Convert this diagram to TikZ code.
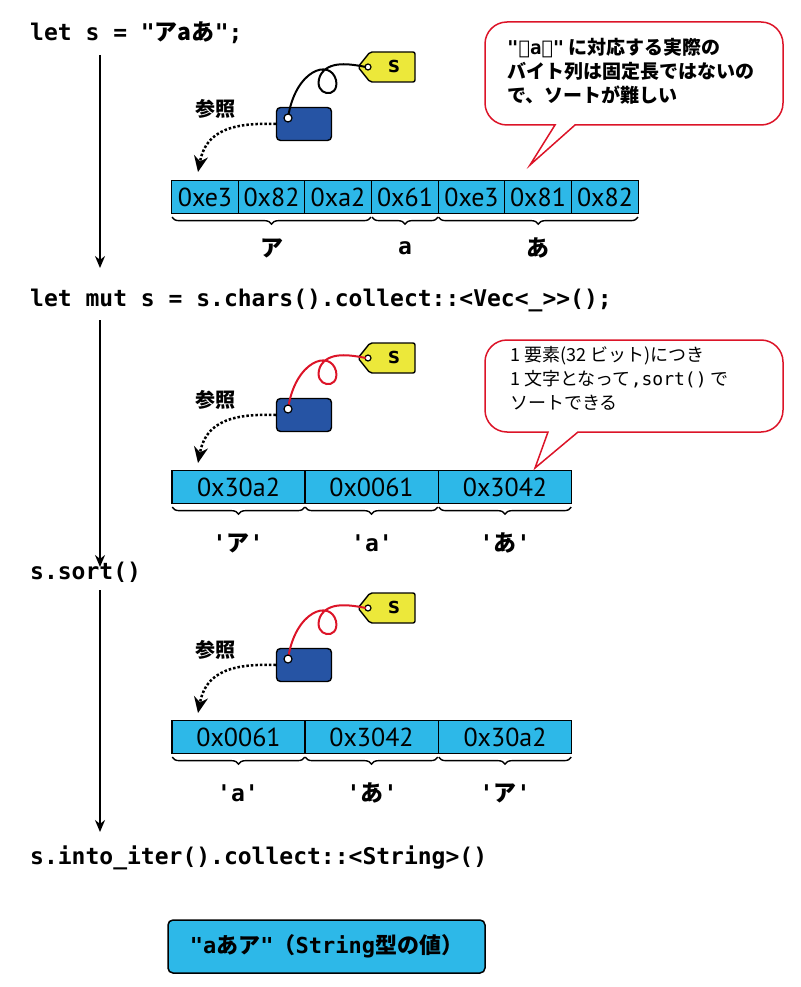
\documentclass[tikz,border=0pt]{standalone}
\usepackage{fontspec}
\setmonofont{DejaVu Sans Mono}
\newfontfamily\cjk{Noto Sans CJK JP}
\newfontfamily\hexf{PT Sans}
\usetikzlibrary{decorations.pathreplacing,arrows.meta,calc}
\definecolor{cyanc}{RGB}{45,184,232}
\definecolor{blueb}{RGB}{38,84,164}
\definecolor{yel}{RGB}{236,232,58}
\definecolor{redc}{RGB}{220,20,40}
\newcommand{\refblock}[3]{% prefix, yshift, string colour
\begin{scope}[shift={(0,#2)}]
\draw[tagshape] (358,67) -- (370,52) -- (415,52) -- (415,82) -- (370,82) -- cycle;
\node[font=\fontsize{22}{24}\ttfamily\bfseries] (#1t) at (394,66) {s};
\node[ptr,minimum width=55,minimum height=33] (#1p) at (304,124) {};
\draw[fill=white,line width=1.2pt] (368,67) circle (3);
\draw[line width=2pt,#3] (288,118) .. controls (295,70) and (330,58) .. (336,80) .. controls (340,100) and (312,96) .. (320,76) .. controls (328,60) and (350,64) .. (366,67);
\draw[fill=white,line width=1.2pt] (288,118) circle (4);
\node[font=\fontsize{20}{22}\cjk\bfseries] (#1r) at (215,109) {参照};
\coordinate (#1e) at (198,172);
\draw[dotarr] (#1p.west) .. controls (225,122) and (205,135) .. (#1e);
\end{scope}}
\begin{document}
\begin{tikzpicture}[x=1pt,y=-1pt,
 code/.style={anchor=west,inner sep=0,font=\fontsize{23}{26}\ttfamily\bfseries},
 cell/.style={draw,line width=1.3pt,fill=cyanc,minimum height=33,inner sep=0,font=\fontsize{26}{28}\hexf},
 lab/.style={inner sep=0,font=\fontsize{23}{24}\ttfamily\bfseries},
 brc/.style={decorate,decoration={brace,mirror,amplitude=7},line width=1.4pt},
 tagshape/.style={draw,line width=1.4pt,fill=yel,rounded corners=2},
 ptr/.style={draw,line width=1.4pt,fill=blueb,rounded corners=4},
 callout/.style={draw=redc,line width=1.5pt,fill=white},
 ctext/.style={anchor=north west,align=left,inner sep=0,font=\fontsize{19}{24}\cjk\bfseries},
 flow/.style={-{Stealth[length=12,width=10]},line width=2pt},
 dotarr/.style={dotted,line width=2.5,-{Stealth[length=16,width=14]}}]
\useasboundingbox (0,0) rectangle (800,987);
% ---- code lines
\node[code] (c1) at (30,33) {let s = "{\cjk\bfseries アaあ}";};
\node[code] (c2) at (30,300) {let mut s = s.chars().collect::<Vec<\_>>();};
\node[code] (c3) at (30,572) {s.sort()};
\node[code] (c4) at (30,858) {s.into\_iter().collect::<String>()};
\coordinate (v1a) at (100,55); \coordinate (v1b) at (100,268);
\coordinate (v2a) at (100,320); \coordinate (v2b) at (100,567);
\coordinate (v3a) at (100,590); \coordinate (v3b) at (100,832);
\draw[flow] (v1a) -- (v1b);
\draw[flow] (v2a) -- (v2b);
\draw[flow] (v3a) -- (v3b);
% ---- step 1
\refblock{k1}{0}{black}
\foreach \i/\t/\x in {1/0xe3/205,2/0x82/271.5,3/0xa2/338,4/0x61/405,5/0xe3/471.5,6/0x81/538,7/0x82/605}
  \node[cell,minimum width=66.7] (a\i) at (\x,197) {\t};
\draw[brc] ($(a1.south west)+(1,3)$) -- ($(a3.south east)+(-1,3)$);
\draw[brc] ($(a4.south west)+(1,3)$) -- ($(a4.south east)+(-1,3)$);
\draw[brc] ($(a5.south west)+(1,3)$) -- ($(a7.south east)+(-1,3)$);
\node[lab,font=\fontsize{23}{24}\cjk\bfseries] (l1) at (272,248) {ア};
\node[lab] (l2) at (405,248) {a};
\node[lab,font=\fontsize{23}{24}\cjk\bfseries] (l3) at (538,248) {あ};
\draw[callout] (530,165) [sharp corners]-- (555,125) [rounded corners=22]-- (485,125) -- (485,22) -- (783,22) -- (783,125) [sharp corners]-- (575,125) -- cycle;
\node[ctext] (n1) at (507,38) {{\ttfamily\bfseries "アaあ"} に対応する実際の\\バイト列は固定長ではないの\\で、ソートが難しい};
% ---- step 2
\refblock{k2}{291}{redc}
\foreach \i/\t/\x in {1/0x30a2/238.5,2/0x0061/371.5,3/0x3042/505}
  \node[cell,minimum width=133.3] (b\i) at (\x,487) {\t};
\foreach \i in {1,2,3} \draw[brc] ($(b\i.south west)+(1,3)$) -- ($(b\i.south east)+(-1,3)$);
\node[lab] (m1) at (238,543) {'{\cjk\bfseries ア}'};
\node[lab] (m2) at (372,543) {'a'};
\node[lab] (m3) at (505,543) {'{\cjk\bfseries あ}'};
\draw[callout] (535,468) [sharp corners]-- (548,432) [rounded corners=22]-- (485,432) -- (485,340) -- (783,340) -- (783,432) [sharp corners]-- (578,432) -- cycle;
\node[ctext,font=\fontsize{18}{24}\cjk] (n2) at (510,346) {1 要素(32 ビット)につき\\1 文字となって{\ttfamily ,sort()} で\\ソートできる};
% ---- step 3
\refblock{k3}{541}{redc}
\foreach \i/\t/\x in {1/0x0061/238.5,2/0x3042/371.5,3/0x30a2/505}
  \node[cell,minimum width=133.3] (d\i) at (\x,737) {\t};
\foreach \i in {1,2,3} \draw[brc] ($(d\i.south west)+(1,3)$) -- ($(d\i.south east)+(-1,3)$);
\node[lab] (q1) at (238,793) {'a'};
\node[lab] (q2) at (372,793) {'{\cjk\bfseries あ}'};
\node[lab] (q3) at (505,793) {'{\cjk\bfseries ア}'};
% ---- result
\node[draw,line width=1.5pt,fill=cyanc,rounded corners=5,minimum width=317,minimum height=53,font=\fontsize{22}{24}\cjk\bfseries] (res) at (326.5,946.5) {{\ttfamily\bfseries "a}あア{\ttfamily\bfseries "}（{\ttfamily\bfseries String}型の値）};
\end{tikzpicture}
\end{document}
